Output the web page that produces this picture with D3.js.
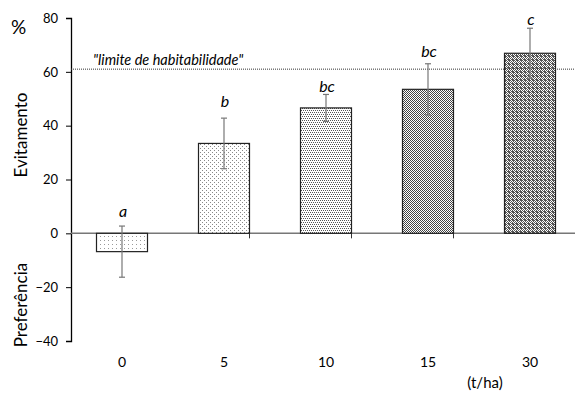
<!DOCTYPE html>
<html>
<head>
<meta charset="utf-8">
<script src="https://cdn.jsdelivr.net/npm/d3@7"></script>
<style>
  body { margin: 0; background: #fff; }
  svg { font-family: Lato, "Open Sans", sans-serif; }
</style>
</head>
<body>
<div id="chart"></div>
<script>
// doses (t/ha), mean avoidance (%), error and significance letters
var doses = ["0", "5", "10", "15", "30"];
var means = [-6.8, 33.4, 46.6, 53.5, 66.9];
var errors = [9.5, 9.4, 5.0, 9.5, 9.3];
var letters = ["a", "b", "bc", "bc", "c"];
var letterPos = [6.1, 46.9, 52.5, 65.5, 77.4];
var yTicks = [-40, -20, 0, 20, 40, 60, 80];
var habitLimit = 61;

var width = 575, height = 395;
var svg = d3.select("#chart").append("svg")
    .attr("width", width)
    .attr("height", height);

// fill patterns, lighter to darker
var defs = svg.append("defs");
function dotPattern(id, size, dots, bg, dotColor) {
    var p = defs.append("pattern")
        .attr("id", id)
        .attr("patternUnits", "userSpaceOnUse")
        .attr("width", size).attr("height", size);
    p.append("rect").attr("width", size).attr("height", size).attr("fill", bg);
    dots.forEach(function (d) {
        p.append("rect").attr("x", d[0]).attr("y", d[1])
            .attr("width", 1).attr("height", 1).attr("fill", dotColor);
    });
}
dotPattern("p0", 4, [[0, 0]], "#fff", "#999");
dotPattern("p1", 4, [[0, 0], [2, 2]], "#fff", "#888");
dotPattern("p2", 4, [[0, 0], [2, 0], [1, 2], [3, 2]], "#fff", "#555");
dotPattern("p3", 2, [[0, 0], [1, 1]], "#fff", "#444");
dotPattern("p4", 4, [[0, 0], [1, 1], [2, 0], [3, 1], [0, 2], [1, 3], [2, 2], [3, 3], [1, 0], [0, 3]], "#fff", "#555");
var fills = ["url(#p0)", "url(#p1)", "url(#p2)", "url(#p3)", "url(#p4)"];

var x = d3.scaleBand()
    .domain(doses)
    .range([71, 581])
    .paddingInner(0.5)
    .paddingOuter(0.25);

var y = d3.scaleLinear()
    .domain([-40, 80])
    .range([341, 18]);

// y axis
var yAxis = d3.axisLeft(y).tickValues(yTicks).tickSize(5).tickPadding(8);
var gy = svg.append("g").attr("transform", "translate(71,0)").call(yAxis);
gy.select(".domain").attr("stroke", "#000").attr("stroke-width", 1.3);
gy.selectAll(".tick line").attr("stroke", "#000");
gy.selectAll(".tick text").attr("font-size", 13).attr("fill", "#000")
    .style("font-family", "Lato, 'Open Sans', sans-serif");

// x axis line at zero with ticks between categories
svg.append("line")
    .attr("x1", 71).attr("x2", 581)
    .attr("y1", y(0)).attr("y2", y(0))
    .attr("stroke", "#777").attr("stroke-width", 1.5);
doses.slice(1).forEach(function (d) {
    var xt = x(d) - x.step() * x.paddingInner() / 2 - x.step() * 0.25;
    svg.append("line")
        .attr("x1", xt).attr("x2", xt)
        .attr("y1", y(0)).attr("y2", y(0) + 5)
        .attr("stroke", "#333");
});

// category labels
svg.selectAll("text.cat").data(doses).enter().append("text")
    .attr("class", "cat")
    .attr("x", function (d) { return x(d) + x.bandwidth() / 2; })
    .attr("y", 367)
    .attr("text-anchor", "middle")
    .attr("font-size", 14)
    .text(function (d) { return d; });

// bars
svg.selectAll("rect.bar").data(means).enter().append("rect")
    .attr("class", "bar")
    .attr("x", function (d, i) { return x(doses[i]); })
    .attr("y", function (d) { return y(Math.max(0, d)); })
    .attr("width", x.bandwidth())
    .attr("height", function (d) { return Math.abs(y(d) - y(0)); })
    .attr("fill", function (d, i) { return fills[i]; })
    .attr("stroke", "#222").attr("stroke-width", 1.2);

// habitability limit
svg.append("line")
    .attr("x1", 71).attr("x2", 575)
    .attr("y1", y(habitLimit)).attr("y2", y(habitLimit))
    .attr("stroke", "#333").attr("stroke-width", 1)
    .attr("stroke-dasharray", "1,1");
svg.append("text")
    .attr("x", 93).attr("y", y(habitLimit) - 4)
    .attr("font-size", 14.5).attr("font-style", "italic")
    .text("\"limite de habitabilidade\"");

// error bars
var eb = svg.selectAll("g.err").data(means).enter().append("g")
    .attr("class", "err")
    .attr("stroke", "#777").attr("stroke-width", 1.2);
eb.append("line")
    .attr("x1", function (d, i) { return x(doses[i]) + x.bandwidth() / 2; })
    .attr("x2", function (d, i) { return x(doses[i]) + x.bandwidth() / 2; })
    .attr("y1", function (d, i) { return y(d + errors[i]); })
    .attr("y2", function (d, i) { return y(d - errors[i]); });
eb.append("line")
    .attr("x1", function (d, i) { return x(doses[i]) + x.bandwidth() / 2 - 3; })
    .attr("x2", function (d, i) { return x(doses[i]) + x.bandwidth() / 2 + 3; })
    .attr("y1", function (d, i) { return y(d + errors[i]); })
    .attr("y2", function (d, i) { return y(d + errors[i]); });
eb.append("line")
    .attr("x1", function (d, i) { return x(doses[i]) + x.bandwidth() / 2 - 3; })
    .attr("x2", function (d, i) { return x(doses[i]) + x.bandwidth() / 2 + 3; })
    .attr("y1", function (d, i) { return y(d - errors[i]); })
    .attr("y2", function (d, i) { return y(d - errors[i]); });

// significance letters
svg.selectAll("text.sig").data(letters).enter().append("text")
    .attr("class", "sig")
    .attr("x", function (d, i) { return x(doses[i]) + x.bandwidth() / 2 + 1; })
    .attr("y", function (d, i) { return y(letterPos[i]); })
    .attr("text-anchor", "middle")
    .attr("font-size", 16).attr("font-style", "italic")
    .text(function (d) { return d; });

// axis titles
svg.append("text").attr("x", 11).attr("y", 34).attr("font-size", 19).text("%");
svg.append("text")
    .attr("transform", "translate(27,135) rotate(-90)")
    .attr("text-anchor", "middle").attr("font-size", 17)
    .text("Evitamento");
svg.append("text")
    .attr("transform", "translate(27,305) rotate(-90)")
    .attr("text-anchor", "middle").attr("font-size", 17)
    .text("Preferência");
svg.append("text")
    .attr("x", 485).attr("y", 388)
    .attr("text-anchor", "middle").attr("font-size", 15)
    .text("(t/ha)");
</script>
</body>
</html>
